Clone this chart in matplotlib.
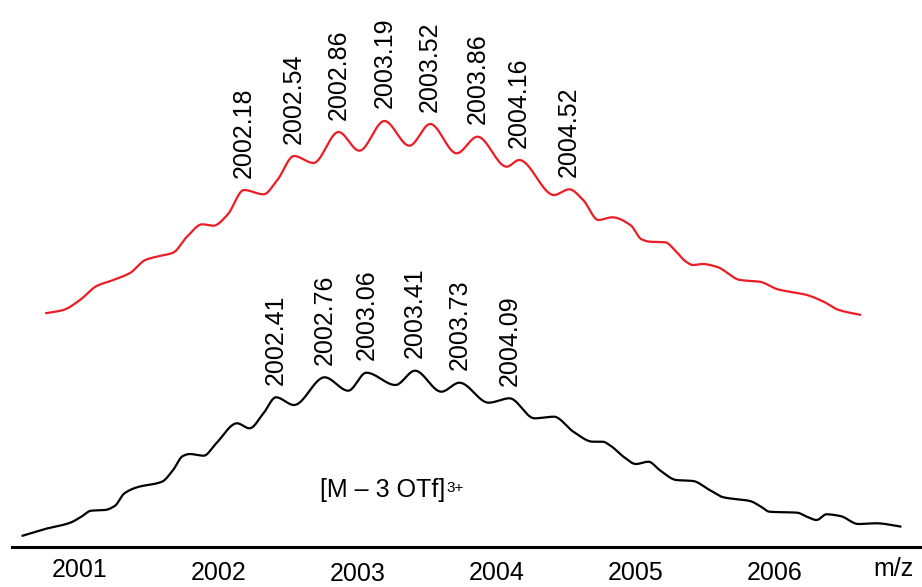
import numpy as np
import matplotlib
matplotlib.use("Agg")
import matplotlib.pyplot as plt
from matplotlib.transforms import ScaledTranslation

plt.rcParams['font.family'] = ['Liberation Sans', 'DejaVu Sans']

# isotope envelope of [M - 3 OTf]3+, measured (black) and calculated (red)
black_mz = [2000.58, 2000.74, 2000.93, 2001.01, 2001.08, 2001.18, 2001.25,
            2001.32, 2001.41, 2001.59, 2001.67, 2001.74, 2001.79, 2001.89,
            2001.98, 2002.13, 2002.22, 2002.32, 2002.41, 2002.54, 2002.76,
            2002.93, 2003.06, 2003.27, 2003.41, 2003.60, 2003.73, 2003.94,
            2004.09, 2004.27, 2004.41, 2004.55, 2004.69, 2004.76, 2004.82,
            2004.91, 2005.00, 2005.09, 2005.17, 2005.29, 2005.41, 2005.53,
            2005.63, 2005.82, 2005.90, 2005.96, 2006.16, 2006.23, 2006.30,
            2006.37, 2006.47, 2006.60, 2006.73, 2006.91]
black_int = [11.0, 17.7, 24.3, 30.3, 36.3, 37.0, 41.0,
             53.7, 59.7, 65.3, 77.0, 91.0, 93.0, 91.3,
             103.7, 123.7, 118.7, 133.7, 149.7, 142.0, 169.7,
             156.3, 174.3, 162.0, 176.3, 155.3, 164.3, 144.3,
             148.7, 128.7, 130.3, 115.3, 105.3, 105.3, 101.0,
             90.3, 83.0, 85.3, 77.0, 67.0, 66.0, 57.0,
             49.7, 46.0, 40.3, 35.3, 34.3, 30.3, 27.0,
             32.7, 31.0, 23.0, 23.7, 20.3]

red_mz = [2000.75, 2000.88, 2001.00, 2001.12, 2001.24, 2001.36, 2001.47,
          2001.55, 2001.67, 2001.77, 2001.88, 2001.96, 2002.06, 2002.18,
          2002.32, 2002.42, 2002.54, 2002.68, 2002.86, 2003.01, 2003.19,
          2003.37, 2003.52, 2003.71, 2003.86, 2004.07, 2004.16, 2004.41,
          2004.52, 2004.62, 2004.73, 2004.83, 2004.96, 2005.04, 2005.10,
          2005.21, 2005.29, 2005.36, 2005.41, 2005.48, 2005.58, 2005.75,
          2005.89, 2006.02, 2006.23, 2006.35, 2006.46, 2006.62]
red_int = [3.7, 7.0, 17.0, 31.0, 37.0, 44.0, 57.0,
           60.3, 64.3, 80.3, 92.7, 91.3, 102.0, 127.0,
           122.7, 137.0, 161.0, 154.0, 185.0, 166.3, 196.0,
           171.3, 193.0, 163.7, 180.3, 150.3, 157.0, 122.0,
           127.7, 117.0, 97.0, 99.7, 92.0, 77.7, 75.3,
           74.7, 65.3, 55.3, 52.0, 53.0, 50.3, 37.0,
           35.3, 27.7, 22.0, 15.3, 7.0, 2.0]

black_peaks = [2002.41, 2002.76, 2003.06, 2003.41, 2003.73, 2004.09]
red_peaks = [2002.18, 2002.54, 2002.86, 2003.19, 2003.52, 2003.86,
             2004.16, 2004.52]

tick_values = [2001, 2002, 2003, 2004, 2005, 2006]
tick_labels = ['2001', '2002', '2003', '2004', '2005', '2006']

RED_OFFSET = 230  # vertical shift of the calculated trace
RED = '#ed1c24'


def smooth_line(x, y, n=1500):
    # monotone cubic hermite through the read points, for drawing only
    x = np.asarray(x, float)
    y = np.asarray(y, float)
    h = np.diff(x)
    d = np.diff(y) / h
    m = np.zeros_like(y)
    m[0], m[-1] = d[0], d[-1]
    for k in range(1, len(x) - 1):
        if d[k - 1] * d[k] > 0:
            w1 = 2 * h[k] + h[k - 1]
            w2 = h[k] + 2 * h[k - 1]
            m[k] = (w1 + w2) / (w1 / d[k - 1] + w2 / d[k])
    xs = np.linspace(x[0], x[-1], n)
    i = np.clip(np.searchsorted(x, xs, side='right') - 1, 0, len(x) - 2)
    t = (xs - x[i]) / h[i]
    h00 = 2 * t**3 - 3 * t**2 + 1
    h10 = t**3 - 2 * t**2 + t
    h01 = -2 * t**3 + 3 * t**2
    h11 = t**3 - t**2
    ys = h00 * y[i] + h10 * h[i] * m[i] + h01 * y[i + 1] + h11 * h[i] * m[i + 1]
    return xs, ys


fig = plt.figure(figsize=(9.22, 5.87), dpi=100)
ax = fig.add_axes([12 / 922, 40 / 587, 1 - 12 / 922, 547 / 587])
ax.set_xlim(2000.511, 2007.058)
ax.set_ylim(0, 547)

bx, by = smooth_line(black_mz, black_int)
ax.plot(bx, by, color='black', lw=1.6, solid_capstyle='butt')
rx, ry = smooth_line(red_mz, red_int)
ax.plot(rx, ry + RED_OFFSET, color=RED, lw=1.6, solid_capstyle='butt')

# peak labels
for mz in black_peaks:
    yv = np.interp(mz, black_mz, black_int)
    ax.annotate('{:.2f}'.format(mz), xy=(mz, yv), xytext=(0, 9),
                textcoords='offset points', rotation=90,
                ha='center', va='bottom', fontsize=18)
for mz in red_peaks:
    yv = np.interp(mz, red_mz, red_int) + RED_OFFSET
    ax.annotate('{:.2f}'.format(mz), xy=(mz, yv), xytext=(0, 9),
                textcoords='offset points', rotation=90,
                ha='center', va='bottom', fontsize=18)

ion = ax.text(2002.73, 50, '[M – 3 OTf]', fontsize=18,
              ha='left', va='baseline')
ax.annotate('3+', xy=(1, 1), xycoords=ion, xytext=(0.5, -2),
            textcoords='offset points', ha='left', va='top', fontsize=11)

# axis: only the bottom line, no tick marks
for side in ['left', 'right', 'top']:
    ax.spines[side].set_visible(False)
ax.spines['bottom'].set_linewidth(2.2)
ax.set_yticks([])
ax.set_xticks(tick_values)
ax.set_xticklabels(tick_labels)
ax.tick_params(axis='x', length=0, pad=8, labelsize=18)

# staggered tick labels
stagger = [0, -2, -3, -2, -2, -2]
for lab, dy in zip(ax.get_xticklabels(), stagger):
    lab.set_transform(lab.get_transform() +
                      ScaledTranslation(0, dy / 72, fig.dpi_scale_trans))

ax.annotate('m/z', xy=(2006.85, 0), xycoords=('data', 'axes fraction'),
            xytext=(0, -7), textcoords='offset points',
            ha='center', va='top', fontsize=18)

fig.savefig('out.png', dpi=100)
